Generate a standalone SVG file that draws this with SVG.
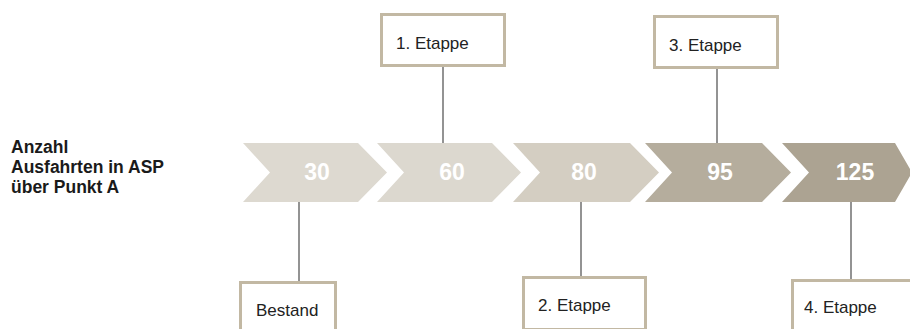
<svg xmlns="http://www.w3.org/2000/svg" width="910" height="329" viewBox="0 0 910 329">
  <style>
    .label { font-family: "Liberation Sans", Arial, sans-serif; font-size: 17.5px; font-weight: bold; fill: #1a1a1a; }
    .num { font-family: "Liberation Sans", Arial, sans-serif; font-size: 23px; font-weight: bold; fill: #ffffff; text-anchor: middle; }
    .box { fill: #ffffff; stroke: #c2b8a3; stroke-width: 3; }
    .boxtext { font-family: "Liberation Sans", Arial, sans-serif; font-size: 17px; fill: #222222; }
    .conn { stroke: #6f6f6f; stroke-width: 1.5; fill: none; }
  </style>
  <rect width="910" height="329" fill="#ffffff"/>

  <!-- row label -->
  <g id="row-label">
    <text class="label" x="11" y="153">Anzahl</text>
    <text class="label" x="11" y="173">Ausfahrten in ASP</text>
    <text class="label" x="11" y="193">über Punkt A</text>
  </g>

  <!-- connectors between stage boxes and chevrons -->
  <g id="connectors">
    <line class="conn" x1="443" y1="66" x2="443" y2="143"/>
    <line class="conn" x1="717" y1="68" x2="717" y2="143"/>
    <line class="conn" x1="299" y1="202" x2="299" y2="282"/>
    <line class="conn" x1="581" y1="202" x2="581" y2="277"/>
    <line class="conn" x1="851" y1="202" x2="851" y2="280"/>
  </g>

  <!-- chevrons -->
  <g id="chevron-30">
    <polygon points="243,143 358,143 387,172.5 358,202 243,202 270,172.5" fill="#ddd9d0"/>
    <text class="num" x="317" y="180">30</text>
  </g>
  <g id="chevron-60">
    <polygon points="377,143 492,143 521,172.5 492,202 377,202 404,172.5" fill="#dcd8cf"/>
    <text class="num" x="452" y="180">60</text>
  </g>
  <g id="chevron-80">
    <polygon points="513,143 630,143 659,172.5 630,202 513,202 540,172.5" fill="#d4cec2"/>
    <text class="num" x="584" y="180">80</text>
  </g>
  <g id="chevron-95">
    <polygon points="645,143 762,143 791,172.5 762,202 645,202 672,172.5" fill="#b5ad9d"/>
    <text class="num" x="720" y="180">95</text>
  </g>
  <g id="chevron-125">
    <polygon points="782,143 895,143 912,172.5 895,202 782,202 809,172.5" fill="#aca392"/>
    <text class="num" x="855" y="180">125</text>
  </g>

  <!-- stage boxes -->
  <g id="box-etappe1">
    <rect class="box" x="381.5" y="14.5" width="123" height="51"/>
    <text class="boxtext" x="396" y="49">1. Etappe</text>
  </g>
  <g id="box-etappe3">
    <rect class="box" x="654.5" y="16.5" width="123" height="51"/>
    <text class="boxtext" x="669" y="51">3. Etappe</text>
  </g>
  <g id="box-bestand">
    <rect class="box" x="240.5" y="282.5" width="95" height="52"/>
    <text class="boxtext" x="256" y="316">Bestand</text>
  </g>
  <g id="box-etappe2">
    <rect class="box" x="523.5" y="277.5" width="122" height="52"/>
    <text class="boxtext" x="538" y="311">2. Etappe</text>
  </g>
  <g id="box-etappe4">
    <rect class="box" x="792.5" y="280.5" width="125" height="52"/>
    <text class="boxtext" x="804" y="313">4. Etappe</text>
  </g>
</svg>
